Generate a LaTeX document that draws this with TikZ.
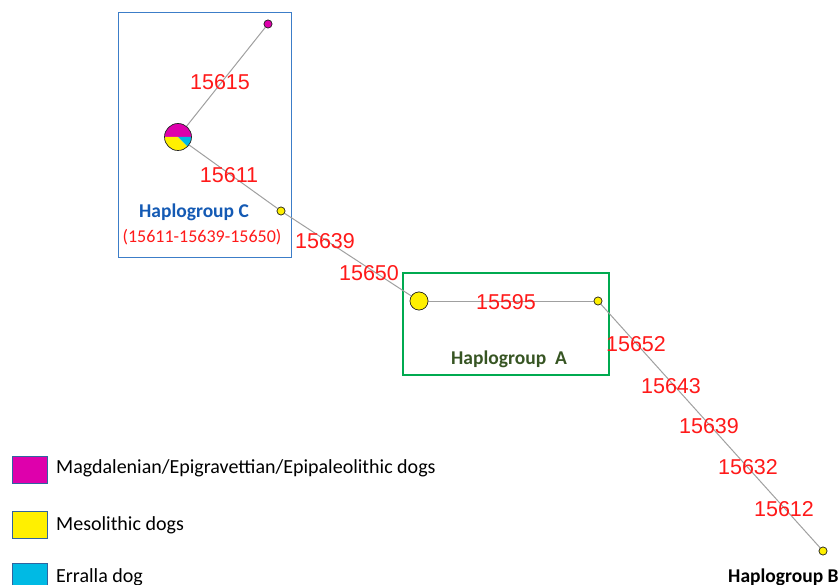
\documentclass[tikz,border=0pt]{standalone}
\usepackage{fontspec}
\setmainfont{Carlito}
\newfontfamily\arialf{Liberation Sans}
\definecolor{mag}{RGB}{222,0,172}
\definecolor{yel}{RGB}{255,240,0}
\definecolor{cya}{RGB}{0,186,228}
\definecolor{redt}{RGB}{255,25,25}
\definecolor{bluebox}{RGB}{60,125,200}
\definecolor{greenbox}{RGB}{0,170,80}
\definecolor{bluet}{RGB}{20,90,180}
\definecolor{greent}{RGB}{55,85,35}
\definecolor{edgec}{RGB}{160,160,160}
\tikzset{
  hap/.style={circle,draw=black!85,line width=0.6pt,inner sep=0pt,fill=#1},
  small/.style={minimum size=8pt},
  mut/.style={text=redt,font=\arialf\fontsize{21.5}{24}\selectfont,inner sep=0pt},
  link/.style={draw=edgec,line width=1pt},
  legsq/.style={draw=bluebox!80!black,line width=0.5pt,minimum width=35pt,minimum height=27pt,inner sep=0pt,fill=#1},
  legtxt/.style={anchor=west,inner sep=0pt,font=\fontsize{20}{23}\selectfont},
  grp/.style={inner sep=0pt,font=\bfseries\fontsize{19.5}{22}\selectfont}
}
\begin{document}
\begin{tikzpicture}[x=1pt,y=-1pt]
\useasboundingbox (0,0) rectangle (840,585);
% boxes
\draw[draw=bluebox,line width=1pt] (118,13) rectangle (291,258);
\draw[draw=greenbox,line width=1.2pt] (403,273) rectangle (609,375);
% nodes
\node[hap=mag,small] (m1) at (268,24) {};
\node[circle,minimum size=27pt,inner sep=0pt] (pie) at (178,137) {};
\node[hap=yel,small] (y1) at (281,211) {};
\node[hap=yel,minimum size=18pt] (ya) at (419,301) {};
\node[hap=yel,small] (y2) at (598,301) {};
\node[hap=yel,small] (yb) at (823,551) {};
% edges
\draw[link] (m1) -- (pie);
\draw[link] (pie) -- (y1);
\draw[link] (y1) -- (ya);
\draw[link] (ya) -- (y2);
\draw[link] (y2) -- (yb);
% pie
\fill[mag] (pie.center) -- ++(0:13.5pt) arc[start angle=0,end angle=180,radius=13.5pt] -- cycle;
\fill[yel] (pie.center) -- ++(180:13.5pt) arc[start angle=180,end angle=315,radius=13.5pt] -- cycle;
\fill[cya] (pie.center) -- ++(315:13.5pt) arc[start angle=315,end angle=360,radius=13.5pt] -- cycle;
\draw[black!85,line width=0.7pt] (pie.center) circle[radius=13.5pt];
% redraw nodes on top
\node[hap=mag,small] at (m1) {};
\node[hap=yel,small] at (y1) {};
\node[hap=yel,minimum size=18pt] at (ya) {};
\node[hap=yel,small] at (y2) {};
\node[hap=yel,small] at (yb) {};
% mutation labels
\node[mut] (l1) at (220,82) {15615};
\node[mut] (l2) at (229,175) {15611};
\node[mut] (l3) at (325,241) {15639};
\node[mut] (l4) at (369,273) {15650};
\node[mut] (l5) at (506,302) {15595};
\node[mut] (l6) at (636,344) {15652};
\node[mut] (l7) at (671,386) {15643};
\node[mut] (l8) at (709,426) {15639};
\node[mut] (l9) at (748,467) {15632};
\node[mut] (l10) at (784,509) {15612};
% group labels
\node[grp,text=bluet] (gc) at (194,212) {Haplogroup C};
\node[inner sep=0pt,text=redt,font=\fontsize{18}{21}\selectfont] (gcs) at (202,237) {(15611-15639-15650)};
\node[grp,text=greent] (ga) at (509,359) {Haplogroup\ \ A};
\node[grp,text=black,anchor=west] (gb) at (728,577) {Haplogroup B};
% legend
\node[legsq=mag] (s1) at (30,469.5) {};
\node[legsq=yel] (s2) at (30,525) {};
\node[legsq=cya] (s3) at (30,576.5) {};
\node[legtxt] (t1) at (56,468) {Magdalenian/Epigravettian/Epipaleolithic dogs};
\node[legtxt] (t2) at (56,525) {Mesolithic dogs};
\node[legtxt] (t3) at (56,577) {Erralla dog};
\end{tikzpicture}
\end{document}
